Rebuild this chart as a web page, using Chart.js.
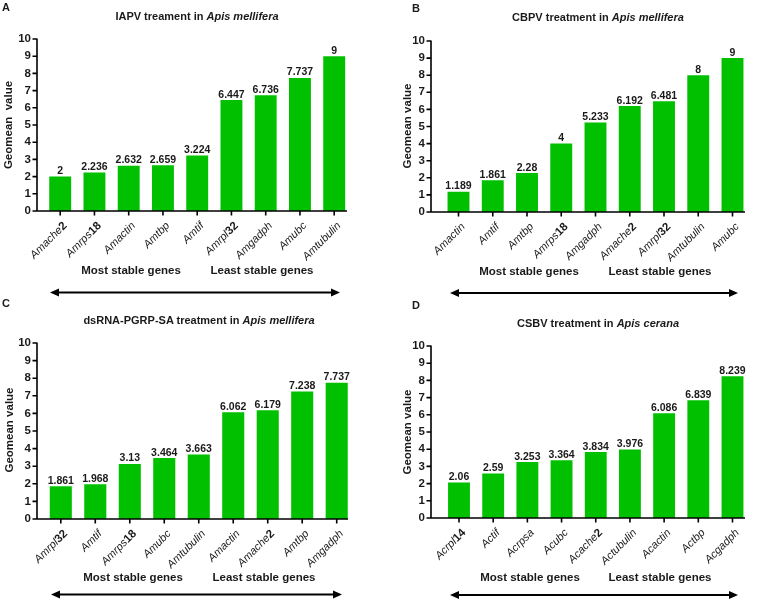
<!DOCTYPE html>
<html>
<head>
<meta charset="utf-8">
<script src="https://cdn.jsdelivr.net/npm/chart.js@4.4.1/dist/chart.umd.min.js"></script>
<style>
  html, body { margin: 0; padding: 0; background: #fff; }
  #page { position: relative; width: 758px; height: 602px; overflow: hidden;
          font-family: "Liberation Sans", Arial, sans-serif; color: #1a1a1a; }
  .cv { position: absolute; width: 379px; height: 301px; }
  .txt { position: absolute; white-space: nowrap; font-weight: bold; line-height: 1; }
  .letter { font-size: 11px; }
  .title { font-size: 11px; transform: translate(-50%, -50%); }
  .ylab { font-size: 11.5px; transform: translate(-50%, -50%) rotate(-90deg); }
  .grp { font-size: 11.5px; transform: translate(-50%, -50%); }
  svg { position: absolute; left: 0; top: 0; }
</style>
</head>
<body>
<div id="page">
  <div class="cv" style="left:0;top:0"><canvas id="cA"></canvas></div>
  <div class="cv" style="left:379px;top:0"><canvas id="cB"></canvas></div>
  <div class="cv" style="left:0;top:301px"><canvas id="cC"></canvas></div>
  <div class="cv" style="left:379px;top:301px"><canvas id="cD"></canvas></div>

  <div class="txt letter" style="left:2px;top:2px">A</div>
  <div class="txt letter" style="left:412px;top:3px">B</div>
  <div class="txt letter" style="left:2px;top:298px">C</div>
  <div class="txt letter" style="left:412px;top:300px">D</div>

  <div class="txt title" style="left:197px;top:16px">IAPV treament in <i>Apis mellifera</i></div>
  <div class="txt title" style="left:598px;top:17px">CBPV treatment in <i>Apis mellifera</i></div>
  <div class="txt title" style="left:199px;top:320px">dsRNA-PGRP-SA treatment in <i>Apis mellifera</i></div>
  <div class="txt title" style="left:598px;top:323px">CSBV treatment in <i>Apis cerana</i></div>

  <div class="txt ylab" style="left:9px;top:125px">Geomean&nbsp; value</div>
  <div class="txt ylab" style="left:408px;top:126px">Geomean value</div>
  <div class="txt ylab" style="left:10px;top:430px">Geomean value</div>
  <div class="txt ylab" style="left:408px;top:432px">Geomean value</div>

  <div class="txt grp" style="left:131px;top:271px">Most stable genes</div>
  <div class="txt grp" style="left:262px;top:271px">Least stable genes</div>
  <div class="txt grp" style="left:529px;top:272px">Most stable genes</div>
  <div class="txt grp" style="left:660px;top:272px">Least stable genes</div>
  <div class="txt grp" style="left:133px;top:578px">Most stable genes</div>
  <div class="txt grp" style="left:264px;top:578px">Least stable genes</div>
  <div class="txt grp" style="left:530px;top:578px">Most stable genes</div>
  <div class="txt grp" style="left:660px;top:578px">Least stable genes</div>

  <svg width="758" height="602">
    <g stroke="#000" stroke-width="2">
      <line x1="56" y1="292.5" x2="334" y2="292.5"/>
      <line x1="456" y1="293" x2="732" y2="293"/>
      <line x1="57" y1="594.5" x2="336" y2="594.5"/>
      <line x1="456" y1="595" x2="732" y2="595"/>
    </g>
    <g fill="#000">
      <polygon points="50,292.5 59,288.5 59,296.5"/>
      <polygon points="340,292.5 331,288.5 331,296.5"/>
      <polygon points="450,293 459,289 459,297"/>
      <polygon points="738,293 729,289 729,297"/>
      <polygon points="51,594.5 60,590.5 60,598.5"/>
      <polygon points="342,594.5 333,590.5 333,598.5"/>
      <polygon points="450,595 459,591 459,599"/>
      <polygon points="738,595 729,591 729,599"/>
    </g>
  </svg>
</div>

<script>
// ---- data ----
var catsA = ['Amache2', 'Amrps18', 'Amactin', 'Amtbp', 'Amtif', 'Amrpl32', 'Amgadph', 'Amubc', 'Amtubulin'];
var valsA = [2, 2.236, 2.632, 2.659, 3.224, 6.447, 6.736, 7.737, 9];

var catsB = ['Amactin', 'Amtif', 'Amtbp', 'Amrps18', 'Amgadph', 'Amache2', 'Amrpl32', 'Amtubulin', 'Amubc'];
var valsB = [1.189, 1.861, 2.28, 4, 5.233, 6.192, 6.481, 8, 9];

var catsC = ['Amrpl32', 'Amtif', 'Amrps18', 'Amubc', 'Amtubulin', 'Amactin', 'Amache2', 'Amtbp', 'Amgadph'];
var valsC = [1.861, 1.968, 3.13, 3.464, 3.663, 6.062, 6.179, 7.238, 7.737];

var catsD = ['Acrpl14', 'Actif', 'Acrpsa', 'Acubc', 'Acache2', 'Actubulin', 'Acactin', 'Actbp', 'Acgadph'];
var valsD = [2.06, 2.59, 3.253, 3.364, 3.834, 3.976, 6.086, 6.839, 8.239];

var yMin = 0, yMax = 10, yStep = 1;

// ---- layout (pixels inside each 379x301 canvas) ----
// axisX: y-axis line, y10/y0: top/bottom of plot, c0/c8: first/last bar centre, xEnd: end of x-axis line
var geoA = { axisX: 37, y10: 39, y0: 211, c0: 60.2, c8: 334.2, xEnd: 347 };
var geoB = { axisX: 52, y10: 41, y0: 212, c0: 79.5, c8: 353.5, xEnd: 366 };
var geoC = { axisX: 37, y10: 42, y0: 218, c0: 60.8, c8: 336.7, xEnd: 348 };
var geoD = { axisX: 52, y10: 45, y0: 217, c0: 80, c8: 353.5, xEnd: 366 };

var FONT = '"Liberation Sans", Arial, sans-serif';
var INK = '#1a1a1a';
var GREEN = '#00c000';

function drawCatLabel(ctx, text, x, y) {
	var m = text.match(/^(.*?)(\d+)$/);
	var name = m ? m[1] : text;
	var num = m ? m[2] : '';
	ctx.save();
	ctx.translate(x, y);
	ctx.rotate(-Math.PI / 4);
	ctx.textBaseline = 'middle';
	ctx.textAlign = 'left';
	ctx.fillStyle = INK;
	ctx.font = 'bold 11.5px ' + FONT;
	var wn = ctx.measureText(num).width;
	ctx.font = 'italic 11px ' + FONT;
	var wa = ctx.measureText(name).width;
	ctx.fillText(name, -(wa + wn), 0);
	ctx.font = 'bold 11.5px ' + FONT;
	ctx.fillText(num, -wn, 0);
	ctx.restore();
}

var axesPlugin = {
	id: 'prismAxes',
	afterDatasetsDraw: function (chart) {
		var g = chart.options.plugins.prismAxes;
		var ctx = chart.ctx;
		var xs = chart.scales.x, ys = chart.scales.y;
		var top = ys.getPixelForValue(yMax), bot = ys.getPixelForValue(yMin);
		ctx.save();
		ctx.strokeStyle = '#000';
		ctx.lineWidth = 1.6;
		ctx.beginPath();
		ctx.moveTo(g.axisX, top - 0.5);
		ctx.lineTo(g.axisX, bot);
		ctx.lineTo(g.xEnd, bot);
		for (var v = yMin; v <= yMax; v += yStep) {
			var py = ys.getPixelForValue(v);
			ctx.moveTo(g.axisX - 4.5, py);
			ctx.lineTo(g.axisX, py);
		}
		var labels = chart.data.labels;
		for (var i = 0; i < labels.length; i++) {
			var px = xs.getPixelForValue(i);
			ctx.moveTo(px, bot);
			ctx.lineTo(px, bot + 4.5);
		}
		ctx.stroke();

		// category labels
		for (var j = 0; j < labels.length; j++) {
			drawCatLabel(ctx, labels[j], xs.getPixelForValue(j) + 5, bot + 13);
		}

		// value labels on bars
		var meta = chart.getDatasetMeta(0);
		var data = chart.data.datasets[0].data;
		ctx.fillStyle = INK;
		ctx.font = 'bold 10.5px ' + FONT;
		ctx.textAlign = 'center';
		ctx.textBaseline = 'alphabetic';
		meta.data.forEach(function (bar, k) {
			ctx.fillText(String(data[k]), bar.x, bar.y - 2.5);
		});
		ctx.restore();
	}
};

function makeChart(id, cats, vals, geo) {
	var W = 379, H = 301;
	var half = (geo.c8 - geo.c0) / (cats.length - 1) / 2;
	var left = geo.c0 - half;
	var right = geo.c8 + half;
	return new Chart(document.getElementById(id).getContext('2d'), {
		type: 'bar',
		data: {
			labels: cats,
			datasets: [{
				data: vals,
				backgroundColor: GREEN,
				borderWidth: 0,
				categoryPercentage: 1,
				barPercentage: 0.64
			}]
		},
		options: {
			responsive: true,
			maintainAspectRatio: false,
			animation: false,
			layout: { padding: { left: 0, top: geo.y10, right: W - right, bottom: 0 } },
			plugins: {
				legend: { display: false },
				tooltip: { enabled: false },
				prismAxes: geo
			},
			scales: {
				x: {
					type: 'category',
					offset: true,
					grid: { display: false, drawTicks: false },
					border: { display: false },
					ticks: { display: false },
					afterFit: function (s) { s.height = H - geo.y0; }
				},
				y: {
					min: yMin,
					max: yMax,
					grid: { display: false, drawTicks: false },
					border: { display: false },
					ticks: {
						stepSize: yStep,
						padding: left - geo.axisX + 6,
						color: INK,
						font: { family: FONT, size: 11.5, weight: 'bold' }
					},
					afterFit: function (s) { s.width = left; }
				}
			}
		},
		plugins: [axesPlugin]
	});
}

makeChart('cA', catsA, valsA, geoA);
makeChart('cB', catsB, valsB, geoB);
makeChart('cC', catsC, valsC, geoC);
makeChart('cD', catsD, valsD, geoD);
</script>
</body>
</html>
